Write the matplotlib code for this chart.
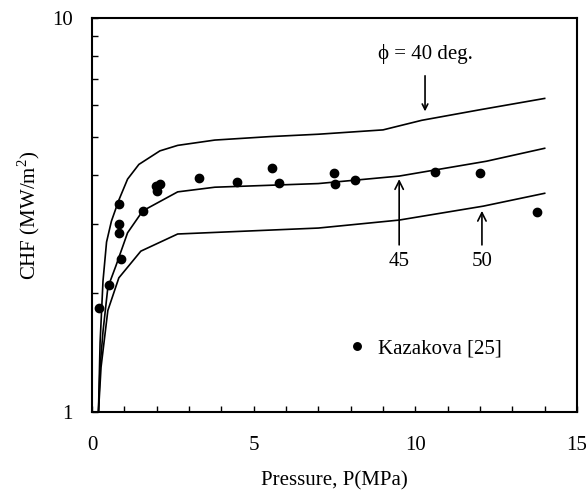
import matplotlib
matplotlib.use("Agg")
import matplotlib.pyplot as plt
from matplotlib.ticker import FixedLocator, LogLocator, NullFormatter

plt.rcParams["font.family"] = ["Liberation Serif", "DejaVu Serif"]
plt.rcParams["mathtext.fontset"] = "custom"
plt.rcParams["mathtext.rm"] = "Liberation Serif"

# ── Data ──────────────────────────────────────────────────────
p_40 = [0.2, 0.25, 0.34, 0.45, 0.6, 0.83, 1.1, 1.45, 2.1, 2.65, 3.8, 5.5, 7.0, 9.0, 10.2, 12.0, 14.0]
chf_40 = [1.0, 1.5, 2.15, 2.7, 3.05, 3.45, 3.9, 4.25, 4.6, 4.75, 4.9, 5.0, 5.07, 5.2, 5.5, 5.85, 6.25]

p_45 = [0.2, 0.25, 0.34, 0.49, 0.74, 1.1, 1.57, 2.65, 3.8, 7.0, 9.5, 12.2, 14.0]
chf_45 = [1.0, 1.3, 1.6, 2.07, 2.35, 2.85, 3.24, 3.62, 3.72, 3.8, 3.97, 4.33, 4.67]

p_50 = [0.2, 0.28, 0.49, 0.83, 1.51, 2.65, 7.0, 9.5, 12.1, 14.0]
chf_50 = [1.0, 1.3, 1.81, 2.19, 2.56, 2.83, 2.93, 3.07, 3.33, 3.59]

p_kaz = [0.22, 0.52, 0.9, 0.83, 0.83, 0.83, 1.57, 1.98, 2.1, 2.0, 3.3, 4.48, 5.56, 5.77,
         7.47, 7.5, 8.12, 10.6, 12.0, 13.77]
chf_kaz = [1.84, 2.10, 2.45, 2.85, 3.0, 3.37, 3.24, 3.74, 3.79, 3.64, 3.92, 3.83, 4.16, 3.81,
           4.04, 3.79, 3.88, 4.06, 4.04, 3.22]

x_ticks = [0, 5, 10, 15]

FS = 15

# ── Figure ────────────────────────────────────────────────────
fig = plt.figure(figsize=(5.86, 4.96), dpi=100)
ax = fig.add_axes([92 / 586, 1 - 412 / 496, (577 - 92) / 586, (412 - 18) / 496])

for p, c in [(p_40, chf_40), (p_45, chf_45), (p_50, chf_50)]:
    ax.plot(p, c, color="black", linewidth=1.2)

ax.plot(p_kaz, chf_kaz, "o", color="black", markersize=6, linestyle="none",
        label="Kazakova [25]")

ax.set_yscale("log")
ax.set_xlim(0, 15)
ax.set_ylim(1, 10)
ax.xaxis.set_major_locator(FixedLocator(x_ticks))
ax.xaxis.set_minor_locator(FixedLocator(range(0, 16)))
ax.yaxis.set_major_locator(FixedLocator([1, 10]))
ax.yaxis.set_minor_locator(LogLocator(base=10, subs=range(2, 10)))
ax.yaxis.set_minor_formatter(NullFormatter())
ax.set_yticklabels(["1", "10"])
ax.tick_params(which="both", direction="in", length=4, width=1, labelsize=FS,
               top=False, right=False)
ax.tick_params(axis="x", pad=17)
ax.tick_params(axis="y", pad=14)
for s in ax.spines.values():
    s.set_linewidth(1.5)

ax.set_xlabel("Pressure, P(MPa)", fontsize=FS, labelpad=12)
ax.set_ylabel("CHF (MW/m$^2$)", fontsize=FS, labelpad=7)

# annotations
ax.text(10.3, 8.1, "\u03d5 = 40 deg.", fontsize=FS, ha="center", va="center")
ax.annotate("", xy=(10.3, 5.7), xytext=(10.3, 7.25),
            arrowprops=dict(arrowstyle="->", color="black", lw=1.2))
ax.annotate("45", xy=(9.5, 3.9), xytext=(9.5, 2.55), fontsize=FS, ha="center", va="top",
            arrowprops=dict(arrowstyle="->", color="black", lw=1.2, shrinkA=3, shrinkB=0))
ax.annotate("50", xy=(12.06, 3.24), xytext=(12.06, 2.55), fontsize=FS, ha="center", va="top",
            arrowprops=dict(arrowstyle="->", color="black", lw=1.2, shrinkA=3, shrinkB=0))

ax.legend(loc="center left", bbox_to_anchor=(0.49, 0.16), frameon=False, fontsize=FS,
          handlelength=0.8, handletextpad=0.6, markerscale=0.9)

fig.savefig("out.png", dpi=100)
